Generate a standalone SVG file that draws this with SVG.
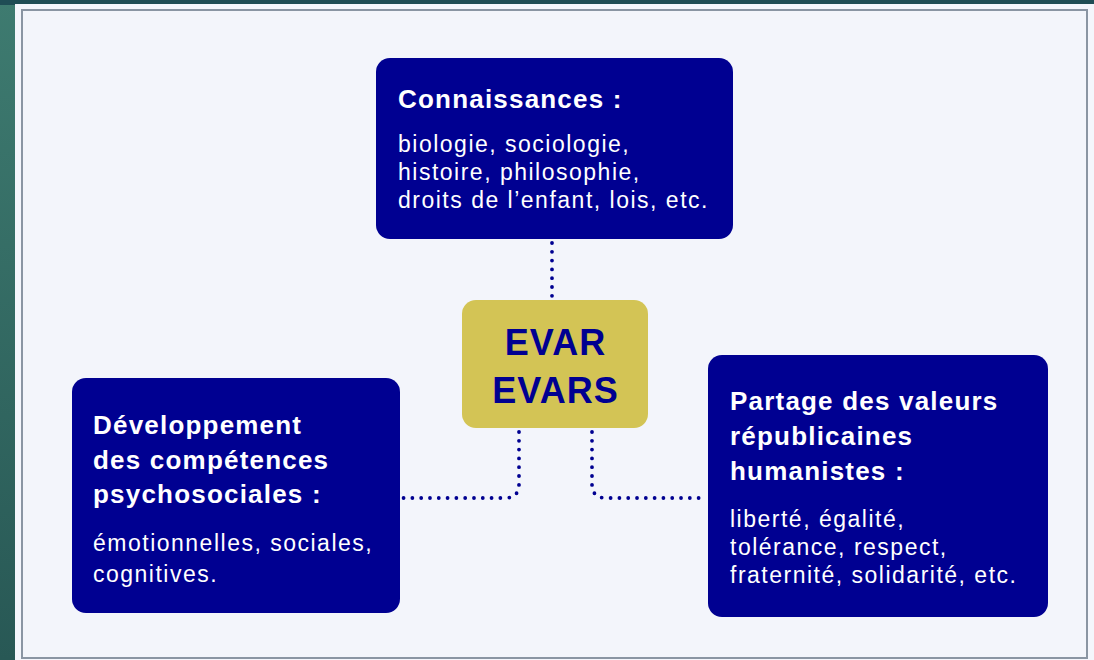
<svg xmlns="http://www.w3.org/2000/svg" width="1094" height="660" viewBox="0 0 1094 660">
  <defs>
    <linearGradient id="bgGrad" x1="0" y1="0" x2="0" y2="1">
      <stop offset="0" stop-color="#3e7b70"/>
      <stop offset="1" stop-color="#285855"/>
    </linearGradient>
    <style>
      .box { fill: #000091; }
      .center { fill: #d3c455; }
      .title { font-family: "Liberation Sans", Arial, sans-serif; font-weight: 700; font-size: 26px; letter-spacing: 1.2px; fill: #ffffff; }
      .body { font-family: "Liberation Sans", Arial, sans-serif; font-weight: 400; font-size: 23px; letter-spacing: 1.5px; fill: #ffffff; }
      .evar { font-family: "Liberation Sans", Arial, sans-serif; font-weight: 700; font-size: 36px; letter-spacing: 1px; fill: #000091; text-anchor: middle; }
      .link { fill: none; stroke: #000091; stroke-width: 3.8; stroke-linecap: round; stroke-dasharray: 0 8.8; }
    </style>
  </defs>

  <!-- background -->
  <rect x="0" y="0" width="1094" height="660" fill="url(#bgGrad)"/>
  <rect x="0" y="0" width="1094" height="5" fill="#1f4d55"/>
  <rect x="15" y="4" width="1079" height="656" fill="#f4f6fc"/>
  <rect x="22" y="10" width="1065" height="648" fill="#f3f5fb" stroke="#8a95a3" stroke-width="2"/>

  <!-- connectors -->
  <g id="connectors">
    <path class="link" d="M552 243 L552 298"/>
    <path class="link" d="M519 432 L519 484 Q519 498 505 498 L402 498"/>
    <path class="link" d="M592 432 L592 484 Q592 498 606 498 L706 498"/>
  </g>

  <g id="node-connaissances">
    <rect class="box" x="376" y="58" width="357" height="181" rx="14"/>
    <text class="title" x="398" y="108">Connaissances :</text>
    <text class="body" x="398" y="152">biologie, sociologie,</text>
    <text class="body" x="398" y="180">histoire, philosophie,</text>
    <text class="body" x="398" y="208">droits de l’enfant, lois, etc.</text>
  </g>

  <g id="node-evar">
    <rect class="center" x="462" y="300" width="186" height="128" rx="14"/>
    <text class="evar" x="555.5" y="355">EVAR</text>
    <text class="evar" x="555.5" y="403">EVARS</text>
  </g>

  <g id="node-competences">
    <rect class="box" x="72" y="378" width="328" height="235" rx="14"/>
    <text class="title" x="93" y="434">Développement</text>
    <text class="title" x="93" y="469">des compétences</text>
    <text class="title" x="93" y="503">psychosociales :</text>
    <text class="body" x="93" y="551">émotionnelles, sociales,</text>
    <text class="body" x="93" y="582">cognitives.</text>
  </g>

  <g id="node-valeurs">
    <rect class="box" x="708" y="355" width="340" height="262" rx="14"/>
    <text class="title" x="730" y="410">Partage des valeurs</text>
    <text class="title" x="730" y="445">républicaines</text>
    <text class="title" x="730" y="480">humanistes :</text>
    <text class="body" x="730" y="527">liberté, égalité,</text>
    <text class="body" x="730" y="555">tolérance, respect,</text>
    <text class="body" x="730" y="583">fraternité, solidarité, etc.</text>
  </g>
</svg>
